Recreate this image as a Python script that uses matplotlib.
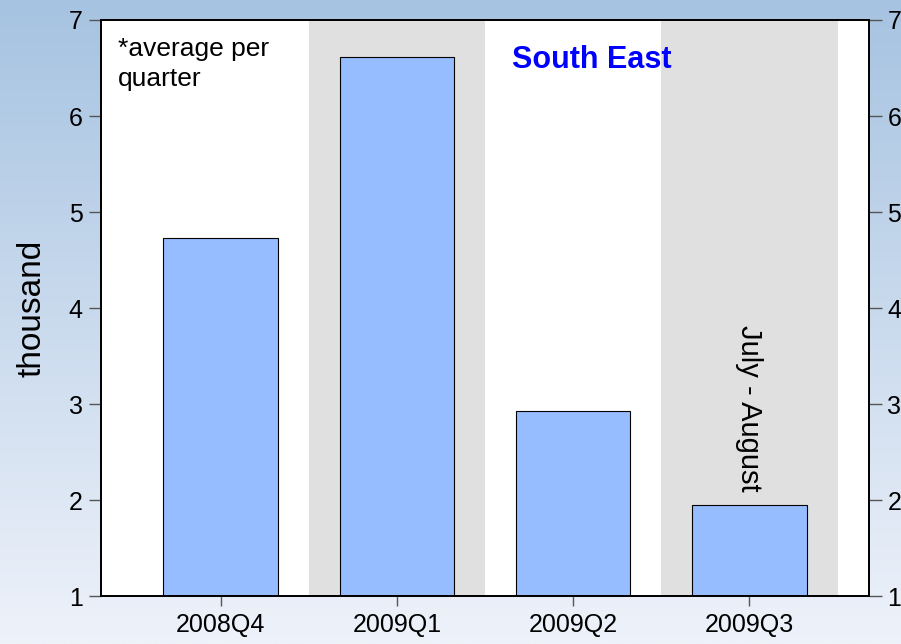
import numpy as np
import matplotlib
matplotlib.use("Agg")
import matplotlib.pyplot as plt
from matplotlib.colors import LinearSegmentedColormap

plt.rcParams['font.family'] = ['Liberation Sans', 'DejaVu Sans']

quarters = ["2008Q4", "2009Q1", "2009Q2", "2009Q3"]
values = [4.73, 6.61, 2.93, 1.95]
shaded = [False, True, False, True]
y_ticks = [1, 2, 3, 4, 5, 6, 7]

fig = plt.figure(figsize=(9.01, 6.44), dpi=100)

# vertical gradient backdrop
bg = fig.add_axes([0, 0, 1, 1], zorder=-10)
grad = np.linspace(0, 1, 256).reshape(-1, 1)
cmap = LinearSegmentedColormap.from_list("bg", ["#a6c3e1", "#eef2fa"])
bg.imshow(grad, aspect="auto", cmap=cmap, extent=[0, 1, 0, 1], origin="upper")
bg.set_axis_off()

ax = fig.add_axes([0.1118, 0.0741, 0.8530, 0.8949])
x = np.arange(len(quarters))

for i, s in enumerate(shaded):
    if s:
        ax.axvspan(i - 0.5, i + 0.5, color="#e0e0e0", zorder=0, lw=0)

ax.bar(x, values, bottom=0, width=0.65, color="#96bdff", edgecolor="black",
       linewidth=0.8, zorder=2)

ax.set_xlim(-0.68, 3.68)
ax.set_ylim(1, 7)
ax.set_xticks(x)
ax.set_xticklabels(quarters)
ax.set_yticks(y_ticks)
ax.tick_params(axis="y", labelsize=18, length=9, width=1, color="#555555", pad=4)
ax.tick_params(axis="x", labelsize=18, length=7, width=1, color="#555555", pad=5)
ax.set_ylabel("thousand", fontsize=24, labelpad=15)
for sp in ax.spines.values():
    sp.set_linewidth(1.3)
    sp.set_color("black")

ax2 = ax.twinx()
ax2.set_ylim(1, 7)
ax2.set_yticks(y_ticks)
ax2.tick_params(axis="y", labelsize=18, length=9, width=1, color="#555555", pad=4)
for sp in ax2.spines.values():
    sp.set_linewidth(1.3)

ax.text(0.0225, 0.97, "*average per\nquarter", transform=ax.transAxes,
        ha="left", va="top", fontsize=19, linespacing=1.3)
ax.text(0.639, 0.931, "South East", transform=ax.transAxes, ha="center",
        va="center", fontsize=22, fontweight="bold", color="#0000ff")
ax.text(3.0, 2.96, "July - August", rotation=-90, ha="center", va="center",
        fontsize=21)

fig.savefig("out.png", dpi=100)
